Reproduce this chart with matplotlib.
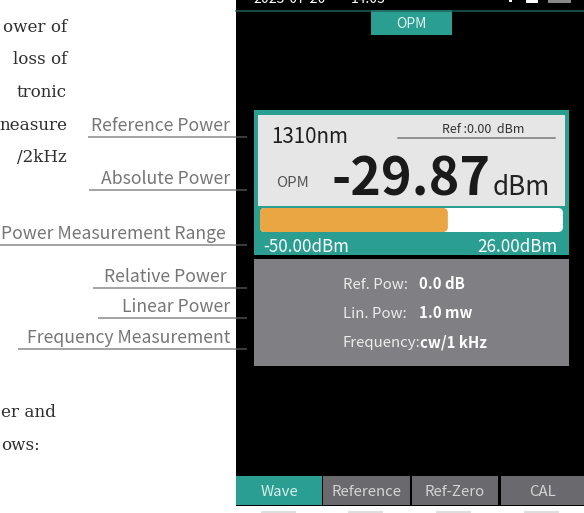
import matplotlib
matplotlib.use("Agg")
import matplotlib.pyplot as plt
from matplotlib.patches import Rectangle, FancyBboxPatch

# ---- data ----
wavelength = "1310nm"
ref_level = 0.00
power_dbm = -29.87
range_min = -50.00
range_max = 26.00
bar_level = 0.62          # fraction of the level bar that is filled

info_labels = ["Ref. Pow:", "Lin. Pow:", "Frequency:"]
info_values = ["0.0 dB", "1.0 mw", "cw/1 kHz"]

button_labels = ["Wave", "Reference", "Ref-Zero", "CAL"]

callout_labels = ["Reference Power", "Absolute Power", "Power Measurement Range",
                  "Relative Power", "Linear Power", "Frequency Measurement"]
callout_y = [137, 190, 245, 288, 318, 349]
callout_x0 = [88, 89, 0, 93, 98, 18]
callout_right = [230, 230, 226, 227, 230, 230]

body_top = ["ower of", "loss of", "tronic", "neasure", "/2kHz"]
body_bottom = ["er and", "ows:"]

TEAL = "#2b9e92"
ORANGE = "#eaa642"
UI = "Noto Sans CJK SC"
PX = 0.72  # px -> pt at dpi 100

fig = plt.figure(figsize=(5.84, 5.13), dpi=100)
ax = fig.add_axes([0, 0, 1, 1])
ax.set_xlim(0, 584)
ax.set_ylim(513, 0)
ax.axis("off")


def rect(x0, y0, x1, y1, color, **kw):
    ax.add_patch(Rectangle((x0, y0), x1 - x0, y1 - y0, facecolor=color,
                           edgecolor="none", **kw))


def txt(x, y, s, px, color, ha="left", weight="normal", family=UI):
    ax.text(x, y, s, fontsize=px * PX, color=color, ha=ha, va="baseline",
            fontweight=weight, family=family)


# screen
rect(236, 0, 584, 506, "black")

# status bar (cut off at the top)
txt(253, 3, "2023-07-20", 14, "white")
txt(351, 3, "14:03", 14, "white")
rect(526, 0, 538, 3, "white")
rect(509, 0, 512, 2, "white")
rect(548, 0, 571, 3, "#888888")
ax.plot([236, 584], [10.5, 10.5], color="#1f5f5a", lw=1.5 * PX)

# OPM tab
rect(371, 10, 452, 35, TEAL)
txt(411.5, 28, "OPM", 14, "#dff3f0", ha="center")

# main measurement panel
rect(254, 110, 569, 255, TEAL)
rect(258, 115, 565, 206, "#e6e6e6")
txt(271, 143, wavelength, 20.5, "#1e1e1e")
txt(483, 133, f"Ref :{ref_level:.2f}  dBm", 12.5, "#333333", ha="center")
ax.plot([398, 555], [137.5, 137.5], color="#777777", lw=1.5 * PX)
txt(276, 187, "OPM", 15, "#555555")
txt(332, 195, f"{power_dbm:.2f}", 52, "#1a1a1a", weight="bold")
txt(493, 195, "dBm", 26, "#222222")

# level bar
bx0, bx1 = 260, 563
ax.add_patch(FancyBboxPatch((bx0 + 5, 213), bx1 - bx0 - 10, 14,
                            boxstyle="round,pad=5,rounding_size=5",
                            facecolor="white", edgecolor="none"))
fill_x1 = bx0 + (bx1 - bx0) * bar_level
ax.add_patch(FancyBboxPatch((bx0 + 5, 213), fill_x1 - bx0 - 10, 14,
                            boxstyle="round,pad=5,rounding_size=5",
                            facecolor=ORANGE, edgecolor="none"))
txt(263, 252, f"{range_min:.2f}dBm", 17, "white")
txt(557, 252, f"{range_max:.2f}dBm", 17, "white", ha="right")

# info panel
rect(254, 259, 569, 366, "#808084")
for i, (lab, val) in enumerate(zip(info_labels, info_values)):
    y = 289 + i * 29
    txt(343, y, lab, 15, "#ececec")
    txt(419 if i < 2 else 420, y, val, 15, "white", weight="bold")

# bottom buttons
btn_x = [(236, 322), (323, 410), (412, 498), (501, 584)]
for i, (lab, (x0, x1)) in enumerate(zip(button_labels, btn_x)):
    rect(x0, 476, x1, 505, TEAL if i == 0 else "#6a6a6e")
    txt((x0 + x1) / 2, 496, lab, 15, "#d8f0ec" if i == 0 else "#d4d4d4",
        ha="center")
for x0, x1 in [(261, 296), (348, 383), (436, 471), (524, 559)]:
    rect(x0, 511, x1, 513, "#dddddd")

# callouts on the left
for lab, y, x0, xr in zip(callout_labels, callout_y, callout_x0, callout_right):
    txt(xr, y - 6, lab, 17.6, "#767676", ha="right")
    ax.plot([x0, 236], [y, y], color="#8f8f8f", lw=1.6 * PX,
            solid_capstyle="butt")
    ax.plot([236, 247], [y, y], color="#4a4a4a", lw=1.6 * PX,
            solid_capstyle="butt")

# body text (only the right-hand ends of the lines are visible)
for i, s in enumerate(body_top):
    txt(67, 32 + i * 32.5, s, 16.8, "#2e2e2e", ha="right", family="DejaVu Serif")
for i, s in enumerate(body_bottom):
    txt(1, 417 + i * 33, s, 16.8, "#2e2e2e", family="DejaVu Serif")

fig.savefig("out.png", dpi=100, facecolor="white")
